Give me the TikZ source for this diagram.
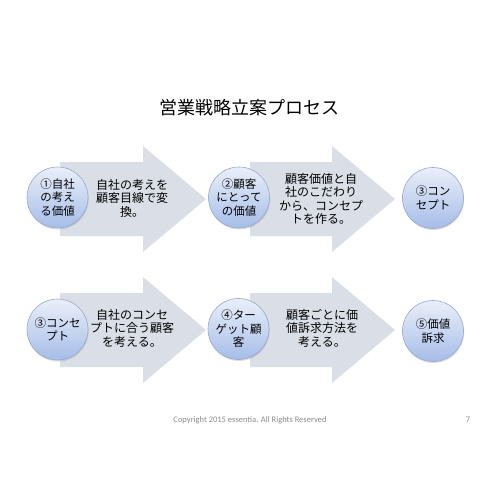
\documentclass[tikz,border=0pt]{standalone}
\usepackage{fontspec}
\newfontfamily\jpfont{Noto Sans CJK JP}
\newfontfamily\footfont{Carlito}
\usetikzlibrary{shadows}
\definecolor{arrowfill}{RGB}{218,223,231}
\definecolor{circtop}{RGB}{234,239,249}
\definecolor{circbot}{RGB}{166,189,232}
\definecolor{circedge}{RGB}{150,170,205}
\definecolor{footgray}{RGB}{140,140,140}
\tikzset{
  x=1pt, y=-1pt,
  bigarrow/.style={fill=arrowfill, draw=none},
  stepcircle/.style={circle, minimum size=61pt, inner sep=0pt, draw=circedge, line width=0.6pt,
    top color=circtop, bottom color=circbot,
    drop shadow={shadow xshift=0.6pt, shadow yshift=-1.5pt, opacity=0.25, fill=gray},
    font=\jpfont\fontsize{11.5}{13.5}\selectfont, align=center},
  arrowtext/.style={font=\jpfont\fontsize{12}{13.5}\selectfont, align=center, inner sep=0pt},
  foottext/.style={font=\footfont\fontsize{8.5}{10}\selectfont, text=footgray, inner sep=0pt},
}
\begin{document}
\begin{tikzpicture}
\useasboundingbox (0,0) rectangle (500,500);
\fill[white] (0,0) rectangle (500,500);
% title
\node[font=\jpfont\fontsize{18}{20}\selectfont, inner sep=0pt] (title) at (249,108) {営業戦略立案プロセス};
% top row arrows
\fill[bigarrow] (60,162) -- (143,162) -- (143,146) -- (206,199) -- (143,252) -- (143,236) -- (60,236) -- cycle;
\fill[bigarrow] (250,162) -- (332,162) -- (332,146) -- (395,199) -- (332,252) -- (332,236) -- (250,236) -- cycle;
% bottom row arrows
\fill[bigarrow] (60,293) -- (143,293) -- (143,277) -- (206,330) -- (143,383) -- (143,367) -- (60,367) -- cycle;
\fill[bigarrow] (250,293) -- (332,293) -- (332,277) -- (395,330) -- (332,383) -- (332,367) -- (250,367) -- cycle;
% arrow texts
\node[arrowtext] (t1) at (132,198) {自社の考えを\\顧客目線で変\\換。};
\node[arrowtext] (t2) at (321,199) {顧客価値と自\\社のこだわり\\から、コンセプ\\トを作る。};
\node[arrowtext] (t3) at (132,328) {自社のコンセ\\プトに合う顧客\\を考える。};
\node[arrowtext] (t4) at (322,328) {顧客ごとに価\\値訴求方法を\\考える。};
% circles
\node[stepcircle] (c1) at (57.5,197.5) {①自社\\の考え\\る価値};
\node[stepcircle] (c2) at (239,197.5) {②顧客\\にとって\\の価値};
\node[stepcircle] (c3) at (433,198) {③コン\\セプト};
\node[stepcircle] (c4) at (57.5,329.5) {③コンセ\\プト};
\node[stepcircle] (c5) at (238.5,329) {④ター\\ゲット顧\\客};
\node[stepcircle] (c6) at (433,331) {⑤価値\\訴求};
% footer
\node[foottext] (copy) at (250,420) {Copyright 2015 essentia. All Rights Reserved};
\node[foottext] (page) at (468,420) {7};
\end{tikzpicture}
\end{document}
